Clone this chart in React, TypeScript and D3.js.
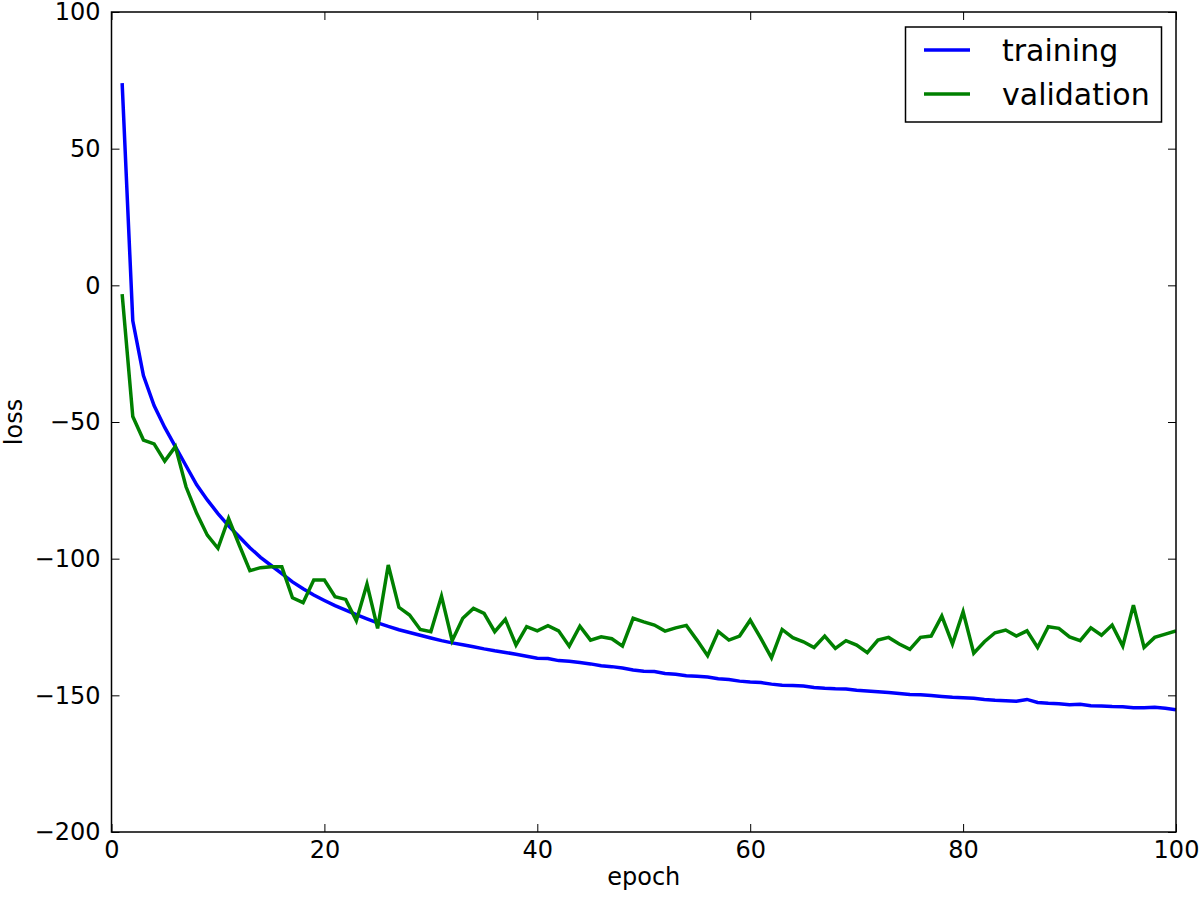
import React, { useEffect, useRef } from "react";
import * as d3 from "d3";

// loss per epoch
const training = [
  74, -13, -33, -44, -52, -59, -66, -73, -78.5, -83.5,
  -88, -92, -96, -99.5, -102.5, -105.5, -108.5, -111, -113.3, -115.3,
  -117.2, -118.8, -120.5, -122, -123.5, -124.8, -126, -127, -128, -129,
  -130, -130.8, -131.5, -132.2, -133, -133.7, -134.3, -135, -135.7, -136.4,
  -136.5, -137.3, -137.5, -138, -138.5, -139.2, -139.5, -140, -140.7, -141.2,
  -141.3, -142, -142.3, -142.8, -143, -143.3, -143.9, -144.2, -144.8, -145.1,
  -145.3, -145.9, -146.3, -146.4, -146.6, -147.1, -147.4, -147.6, -147.7, -148.1,
  -148.4, -148.7, -149, -149.3, -149.7, -149.8, -150.1, -150.4, -150.7, -150.9,
  -151.1, -151.5, -151.8, -152, -152.2, -151.5, -152.6, -152.9, -153.1, -153.4,
  -153.3, -153.8, -153.9, -154.1, -154.2, -154.5, -154.5, -154.4, -154.7, -155.3,
];

const validation = [
  -3.2, -48, -56.6, -58, -64.3, -59, -73.7, -83.4, -91.4, -96.2,
  -85.3, -95, -104.4, -103.3, -103, -103, -114.3, -116.1, -107.8, -107.8,
  -113.9, -114.9, -122.7, -109.3, -125.5, -102.3, -117.8, -120.6, -125.9, -126.7,
  -113.7, -130, -121.8, -118.2, -120, -126.7, -122.2, -131.6, -124.9, -126.4,
  -124.5, -126.4, -132, -124.7, -129.8, -128.6, -129.3, -132, -121.8, -123.1,
  -124.3, -126.5, -125.3, -124.4, -129.8, -135.5, -126.7, -129.8, -128.3, -122.5,
  -129.2, -136.3, -125.9, -128.9, -130.4, -132.5, -128.3, -132.8, -130, -131.6,
  -134.4, -129.8, -128.8, -131.2, -133.2, -128.8, -128.3, -121, -131.2, -119.4,
  -134.6, -130.4, -127.1, -126.1, -128.3, -126.4, -132.5, -124.9, -125.5, -128.6,
  -130, -125.3, -128, -124.3, -132, -117, -132.5, -128.8, -127.6, -126.4,
];

const seriesNames = ["training", "validation"];
const seriesColors = ["#0000ff", "#008000"];
const xTicks = [0, 20, 40, 60, 80, 100];
const yTicks = [-200, -150, -100, -50, 0, 50, 100];

const width = 1200;
const height = 900;
const margin = { top: 12, right: 24, bottom: 68, left: 111.5 };
const font = "DejaVu Sans, sans-serif";

export default function App() {
  const ref = useRef<SVGSVGElement>(null);

  useEffect(() => {
    const svg = d3.select(ref.current);
    svg.selectAll("*").remove();

    const x = d3.scaleLinear().domain([0, 100]).range([margin.left, width - margin.right]);
    const y = d3.scaleLinear().domain([-200, 100]).range([height - margin.bottom, margin.top]);

    const g = svg.append("g");

    svg.append("defs").append("clipPath").attr("id", "plot-clip")
      .append("rect")
      .attr("x", margin.left).attr("y", margin.top)
      .attr("width", x(100) - x(0)).attr("height", y(-200) - y(100));

    // data lines
    const line = d3.line<number>()
      .x((_, i) => x(i + 1))
      .y(d => y(d));

    [training, validation].forEach((data, i) => {
      g.append("path")
        .datum(data)
        .attr("clip-path", "url(#plot-clip)")
        .attr("fill", "none")
        .attr("stroke", seriesColors[i])
        .attr("stroke-width", 3.5)
        .attr("stroke-linejoin", "miter")
        .attr("d", line);
    });

    // axes, ticks pointing inward on all sides
    const styleAxis = (sel: any) => {
      sel.select(".domain").remove();
      sel.selectAll(".tick line").attr("stroke", "#000").attr("stroke-width", 1);
      sel.selectAll(".tick text")
        .attr("fill", "#000")
        .style("font-family", font)
        .style("font-size", "24px");
    };

    g.append("g")
      .attr("transform", `translate(0,${y(-200)})`)
      .call(d3.axisBottom(x).tickValues(xTicks).tickSize(-8).tickPadding(9).tickFormat(d3.format("d")))
      .call(styleAxis);

    g.append("g")
      .attr("transform", `translate(0,${y(100)})`)
      .call(d3.axisTop(x).tickValues(xTicks).tickSize(-8).tickFormat(() => ""))
      .call(styleAxis);

    g.append("g")
      .attr("transform", `translate(${x(0)},0)`)
      .call(d3.axisLeft(y).tickValues(yTicks).tickSize(-8).tickPadding(11)
        .tickFormat(d => d3.format("d")(d as number).replace("-", "\u2212")))
      .call(styleAxis);

    g.append("g")
      .attr("transform", `translate(${x(100)},0)`)
      .call(d3.axisRight(y).tickValues(yTicks).tickSize(-8).tickFormat(() => ""))
      .call(styleAxis);

    g.append("rect")
      .attr("x", x(0)).attr("y", y(100))
      .attr("width", x(100) - x(0)).attr("height", y(-200) - y(100))
      .attr("fill", "none")
      .attr("stroke", "#000")
      .attr("stroke-width", 1.5);

    // axis labels
    g.append("text")
      .attr("x", (x(0) + x(100)) / 2)
      .attr("y", 885)
      .attr("text-anchor", "middle")
      .style("font-family", font)
      .style("font-size", "24px")
      .text("epoch");

    g.append("text")
      .attr("transform", `translate(22,${(y(100) + y(-200)) / 2}) rotate(-90)`)
      .attr("text-anchor", "middle")
      .style("font-family", font)
      .style("font-size", "24px")
      .text("loss");

    // legend
    const legend = g.append("g");
    legend.append("rect")
      .attr("x", 905.5).attr("y", 27)
      .attr("width", 256).attr("height", 95)
      .attr("fill", "#fff")
      .attr("stroke", "#000")
      .attr("stroke-width", 1.5);

    seriesNames.forEach((name, i) => {
      const ly = 50 + i * 44;
      legend.append("line")
        .attr("x1", 924).attr("x2", 970)
        .attr("y1", ly).attr("y2", ly)
        .attr("stroke", seriesColors[i])
        .attr("stroke-width", 3.5);
      legend.append("text")
        .attr("x", 1002)
        .attr("y", ly)
        .attr("dy", "0.35em")
        .style("font-family", font)
        .style("font-size", "30px")
        .text(name);
    });
  }, []);

  return (
    <svg
      ref={ref}
      width={width}
      height={height}
      style={{ position: "absolute", left: 0, top: 0, background: "#fff" }}
    />
  );
}
